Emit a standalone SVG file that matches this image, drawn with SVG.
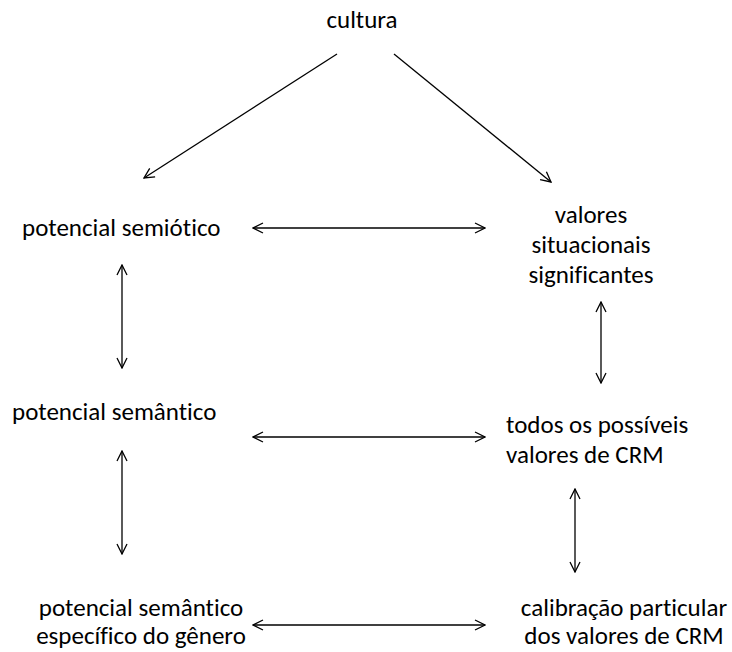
<svg xmlns="http://www.w3.org/2000/svg" width="732" height="652" viewBox="0 0 732 652">
<style>
text{font-family:Carlito,"Liberation Sans",Arial,sans-serif;font-size:25px;fill:#000;font-variant-ligatures:none;font-feature-settings:"liga" 0}
.c{text-anchor:middle}
.ln{stroke:#000;stroke-width:1.3;fill:none;marker-end:url(#ah)}
.bi{marker-start:url(#ahs)}
</style>
<defs>
<marker id="ah" viewBox="0 0 12 12" refX="11" refY="6" markerWidth="12" markerHeight="12" markerUnits="userSpaceOnUse" orient="auto">
<path d="M1,1 L11,6 L1,11" fill="none" stroke="#000" stroke-width="1.3"/>
</marker>
<marker id="ahs" viewBox="0 0 12 12" refX="11" refY="6" markerWidth="12" markerHeight="12" markerUnits="userSpaceOnUse" orient="auto-start-reverse">
<path d="M1,1 L11,6 L1,11" fill="none" stroke="#000" stroke-width="1.3"/>
</marker>
</defs>
<rect width="732" height="652" fill="#fff"/>
<g id="cultura"><text class="c" x="362" y="28">cultura</text></g>
<g id="potencial-semiotico"><text x="22" y="236">potencial semiótico</text></g>
<g id="valores-situacionais"><text class="c" x="591" y="223">valores</text><text class="c" x="591" y="253">situacionais</text><text class="c" x="591" y="283">significantes</text></g>
<g id="potencial-semantico"><text x="12" y="420">potencial semântico</text></g>
<g id="todos-valores"><text x="506" y="433">todos os possíveis</text><text x="506" y="463">valores de CRM</text></g>
<g id="potencial-genero"><text class="c" x="141" y="616">potencial semântico</text><text class="c" x="141" y="644">específico do gênero</text></g>
<g id="calibracao"><text class="c" x="624" y="616">calibração particular</text><text class="c" x="624" y="644">dos valores de CRM</text></g>
<g id="connectors">
<line class="ln" x1="337" y1="54" x2="144" y2="178"/>
<line class="ln" x1="394" y1="54" x2="551" y2="182"/>
<line class="ln bi" x1="253" y1="228" x2="485" y2="228"/>
<line class="ln bi" x1="122" y1="265" x2="122" y2="368"/>
<line class="ln bi" x1="601" y1="302" x2="601" y2="383"/>
<line class="ln bi" x1="253" y1="437" x2="485" y2="437"/>
<line class="ln bi" x1="122" y1="451" x2="122" y2="554"/>
<line class="ln bi" x1="575" y1="489" x2="575" y2="572"/>
<line class="ln bi" x1="253" y1="625" x2="485" y2="625"/>
</g>
</svg>
